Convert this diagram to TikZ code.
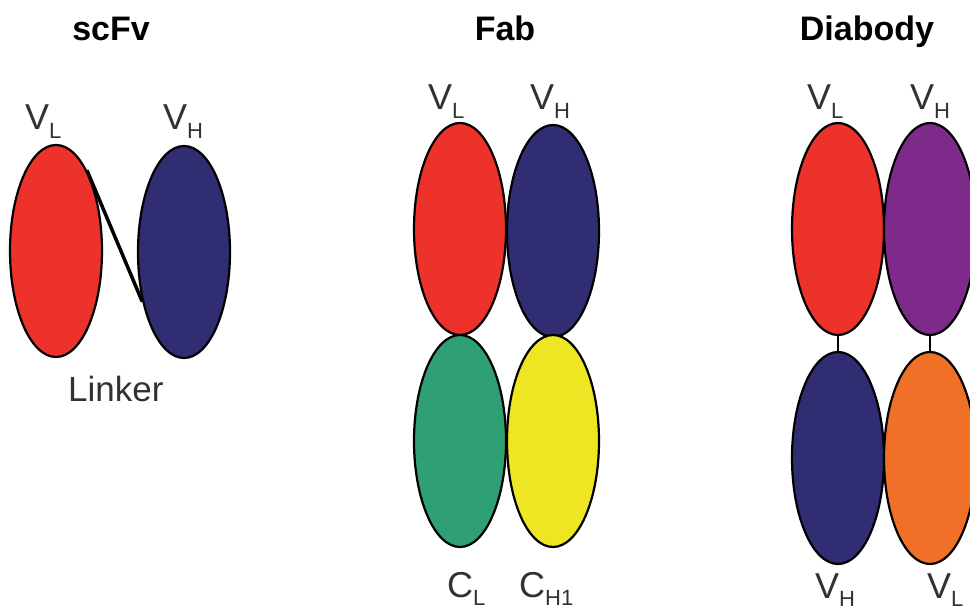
\documentclass[tikz,border=0pt]{standalone}
\usepackage{fontspec}
\setmainfont{Liberation Sans}
\usetikzlibrary{shapes.geometric}

\definecolor{domred}{RGB}{237,50,43}
\definecolor{domblue}{RGB}{49,45,114}
\definecolor{domgreen}{RGB}{46,160,115}
\definecolor{domyellow}{RGB}{238,230,35}
\definecolor{dompurple}{RGB}{126,42,138}
\definecolor{domorange}{RGB}{240,112,40}
\definecolor{labelgray}{RGB}{50,50,50}

% domain label: big letter with a lowered, smaller subscript
\newcommand{\domlabel}[2]{%
  {\fontsize{36}{36}\selectfont #1}%
  {\fontsize{22}{22}\selectfont\raisebox{-8.5pt}{#2}}}

\tikzset{
  domain/.style={ellipse, draw=black, line width=2.2pt, fill=#1,
    minimum width=92pt, minimum height=212pt, inner sep=0pt},
  title/.style={font=\fontsize{34}{34}\selectfont\bfseries, anchor=base,
    inner sep=0pt, text=black},
  dlabel/.style={anchor=base west, inner sep=0pt, text=labelgray},
  linker/.style={line width=3.5pt, black},
  hinge/.style={line width=2pt, black}
}

\begin{document}
\begin{tikzpicture}[x=1pt,y=-1pt]
\useasboundingbox (0,0) rectangle (970,612);
\clip (0,0) rectangle (970,612);

% ---- scFv ----
\node[title] (t1) at (111,41) {scFv};
\node[domain=domred]  (svl) at (56,251) {};
\node[domain=domblue] (svh) at (184,252) {};
\draw[linker] (svl.69) -- (svh.230.6);
\node[dlabel] (svllab) at (25,130) {\domlabel{V}{L}};
\node[dlabel] (svhlab) at (163,130) {\domlabel{V}{H}};
\node[dlabel, font=\fontsize{35}{35}\selectfont] (lk) at (68,402) {Linker};

% ---- Fab ----
\node[title] (t2) at (505,41) {Fab};
\node[domain=domred]    (fvl) at (460,229) {};
\node[domain=domblue]   (fvh) at (553,231) {};
\node[domain=domgreen]  (fcl) at (460,441) {};
\node[domain=domyellow] (fch) at (553,441) {};
\node[dlabel] (fvllab) at (428,110) {\domlabel{V}{L}};
\node[dlabel] (fvhlab) at (530,110) {\domlabel{V}{H}};
\node[dlabel] (fcllab) at (447,597) {\domlabel{C}{L}};
\node[dlabel] (fchlab) at (519,597) {\domlabel{C}{H1}};

% ---- Diabody ----
\node[title] (t3) at (867,41) {Diabody};
\node[domain=domred]    (dvl1) at (838,229) {};
\node[domain=dompurple] (dvh1) at (930,229) {};
\node[domain=domblue]   (dvh2) at (838,458) {};
\node[domain=domorange] (dvl2) at (930,458) {};
\draw[hinge] (dvl1.south) -- (dvh2.north);
\draw[hinge] (dvh1.south) -- (dvl2.north);
\node[dlabel] (dvl1lab) at (807,110) {\domlabel{V}{L}};
\node[dlabel] (dvh1lab) at (910,110) {\domlabel{V}{H}};
\node[dlabel] (dvh2lab) at (815,598) {\domlabel{V}{H}};
\node[dlabel] (dvl2lab) at (927,598) {\domlabel{V}{L}};
\end{tikzpicture}
\end{document}
